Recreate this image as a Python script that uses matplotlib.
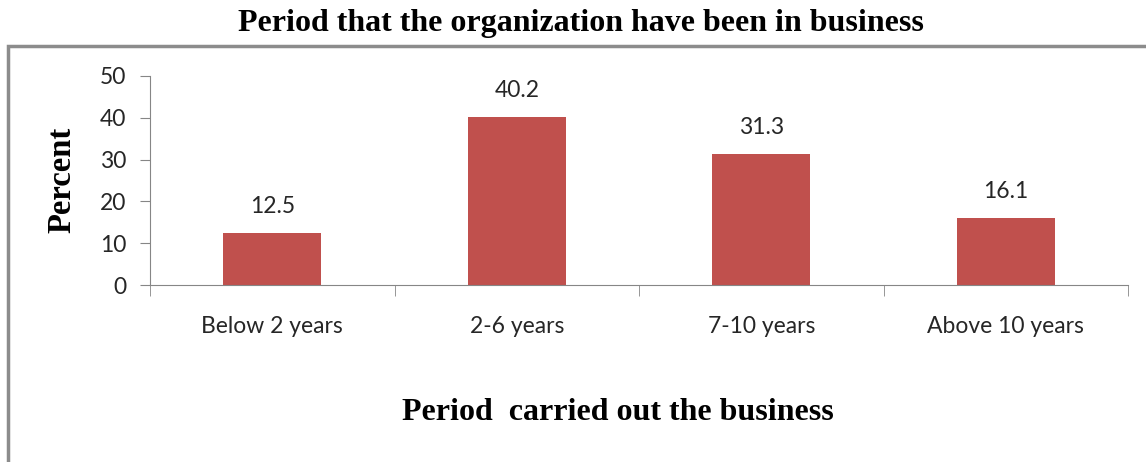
import matplotlib
matplotlib.use("Agg")
from matplotlib import pyplot as plt
from matplotlib.patches import Rectangle

categories = ["Below 2 years", "2-6 years", "7-10 years", "Above 10 years"]
percent = [12.5, 40.2, 31.3, 16.1]
y_ticks = [0, 10, 20, 30, 40, 50]

bar_color = "#C0504D"
axis_color = "#868686"
serif = ["Liberation Serif", "DejaVu Serif"]
sans = ["Lato", "DejaVu Sans"]
tick_size = 16.5

fig = plt.figure(figsize=(11.46, 4.62), dpi=100)

# outer chart border (runs off the right and bottom of the image)
fig.patches.append(Rectangle((8 / 1146, -0.05), 1.2, 1 - 46 / 462 + 0.05,
                             transform=fig.transFigure, fill=False,
                             edgecolor="#8c8c8c", linewidth=2.5))

ax = fig.add_axes([150 / 1146, 1 - 285 / 462, 978 / 1146, 209 / 462])
x = list(range(len(categories)))
ax.bar(x, percent, width=0.4, color=bar_color)

for xi, v in zip(x, percent):
    ax.annotate(f"{v}", (xi, v), xytext=(0, 19), textcoords="offset points",
                ha="center", va="center", fontsize=tick_size, family=sans, color="#262626")

ax.set_xlim(-0.5, len(categories) - 0.5)
ax.set_ylim(0, 50)
ax.set_yticks(y_ticks)
ax.set_yticklabels([str(t) for t in y_ticks], family=sans, fontsize=tick_size, color="#262626")
ax.set_xticks(x)
ax.set_xticklabels(categories, family=sans, fontsize=tick_size, color="#262626")
ax.tick_params(axis="x", length=0, pad=22)
ax.tick_params(axis="y", length=7, color=axis_color, pad=10)
# category boundary ticks
ax.set_xticks([i - 0.5 for i in range(len(categories) + 1)], minor=True)
ax.tick_params(axis="x", which="minor", length=8, color=axis_color)

for side in ["top", "right"]:
    ax.spines[side].set_visible(False)
for side in ["left", "bottom"]:
    ax.spines[side].set_color(axis_color)

fig.text(581 / 1146, 1 - 23 / 462, "Period that the organization have been in business",
         ha="center", va="center", fontsize=23, fontweight="bold", family=serif)
fig.text(62 / 1146, 1 - 180 / 462, "Percent", rotation=90, ha="center", va="center",
         fontsize=23.5, fontweight="bold", family=serif)
fig.text(618 / 1146, 1 - 412 / 462, "Period  carried out the business", ha="center",
         va="center", fontsize=23, fontweight="bold", family=serif)

fig.savefig("out.png", dpi=100)
